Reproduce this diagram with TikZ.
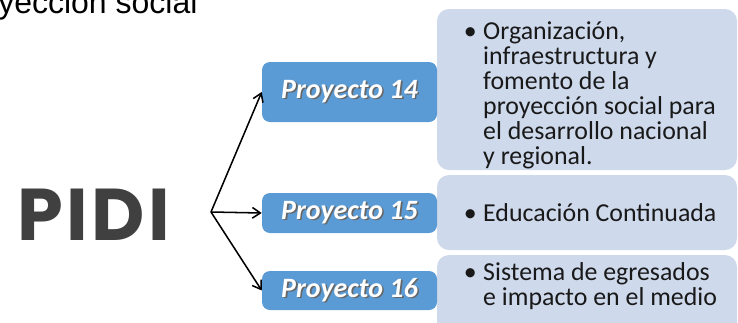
\documentclass[tikz,border=0pt]{standalone}
\usepackage{fontspec}
\usetikzlibrary{arrows.meta}
\newfontfamily\califont{Carlito}
\newfontfamily\arialfont{Liberation Sans}
\newfontfamily\pidifont{Poppins}[LetterSpace=5]
\definecolor{projblue}{RGB}{91,155,213}
\definecolor{lightblue}{RGB}{206,217,236}
\definecolor{pidigray}{RGB}{64,64,64}
\newcommand{\shadowed}[1]{\makebox[0pt][l]{\hspace{1.2pt}\raisebox{-1.2pt}{\textcolor{black!60}{#1}}}#1}
\newcommand{\bul}{\makebox[14.6pt][l]{\textbullet}}
\newcommand{\hang}{\hspace*{14.6pt}}

\begin{document}
\begin{tikzpicture}[x=0.75pt, y=-0.75pt, proj_node/.style={fill=projblue, rounded corners=6pt, minimum width=131.25pt, inner sep=0pt, text=white, font=\califont\bfseries\itshape\fontsize{21}{25}\selectfont}, desc_node/.style={anchor=north west, inner sep=0pt, align=left, text=black!90, font=\califont\fontsize{19.4}{18.75}\selectfont}, light_box/.style={fill=lightblue, rounded corners=9pt}, link/.style={-{Straight Barb[length=6pt, width=8pt]}, line width=1.15pt}]
	\useasboundingbox (0,0) rectangle (738,322);
	% right hand boxes
	\fill[light_box] (437,9) rectangle (737,170);
	\fill[light_box] (437,175) rectangle (737,250);
	\fill[light_box] (437,255) rectangle (737,335);
	\node[anchor=base west, inner sep=0pt, font=\arialfont\fontsize{24}{28}\selectfont](title) at (-2,13){yección social};
	\node[anchor=base west, inner sep=0pt, text=pidigray, font=\pidifont\bfseries\fontsize{55}{60}\selectfont](pidi) at (17,240){PIDI};
	\node[proj_node, minimum height=45pt](p14) at (349.5,92){\shadowed{Proyecto 14}};
	\node[proj_node, minimum height=30pt](p15) at (349.5,213){\shadowed{Proyecto 15}};
	\node[proj_node, minimum height=29.25pt](p16) at (349.5,290.5){\shadowed{Proyecto 16}};
	\coordinate (fork) at (211,212);
	\draw[link](fork) -- (p14.west);
	\draw[link](fork) -- (p15.west);
	\draw[link](fork) -- (p16.west);
	\node[desc_node](d14) at (463.5,21){\bul Organización,\\ \hang infraestructura y\\ \hang fomento de la\\ \hang proyección social para\\ \hang el desarrollo nacional\\ \hang y regional.};
	\node[desc_node](d15) at (463.5,203.5){\bul Educación Continuada};
	\node[desc_node](d16) at (463.5,262.5){\bul Sistema de egresados\\ \hang e impacto en el medio};
\end{tikzpicture}
\end{document}
